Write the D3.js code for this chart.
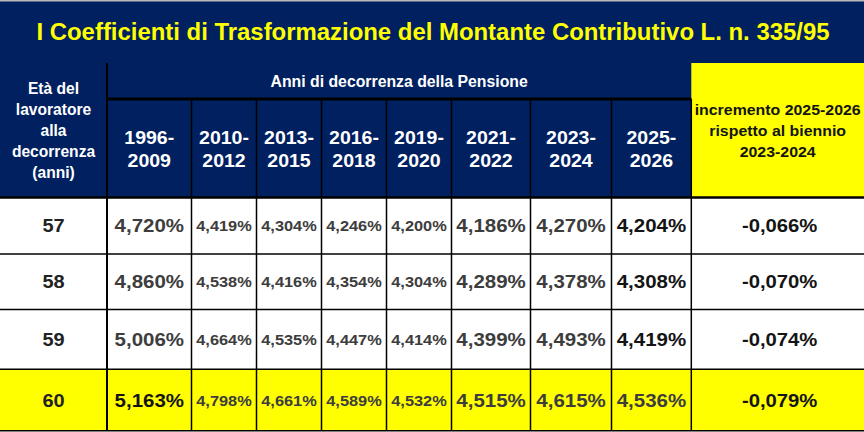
<!DOCTYPE html>
<html><head><meta charset="utf-8">
<script src="https://cdn.jsdelivr.net/npm/d3@7"></script>
<style>html,body{margin:0;padding:0;background:#fff;}svg{display:block;}</style>
</head><body>
<script>
// ---- data ----
const title = "I Coefficienti di Trasformazione del Montante Contributivo L. n. 335/95";
const groupLabel = "Anni di decorrenza della Pensione";
const ageHeader = ["Età del", "lavoratore", "alla", "decorrenza", "(anni)"];
const incrHeader = ["incremento 2025-2026", "rispetto al biennio", "2023-2024"];
const ages = ["57", "58", "59", "60"];
const periods = ["1996-2009", "2010-2012", "2013-2015", "2016-2018", "2019-2020", "2021-2022", "2023-2024", "2025-2026"];
const v1996_2009 = [4.720, 4.860, 5.006, 5.163];
const v2010_2012 = [4.419, 4.538, 4.664, 4.798];
const v2013_2015 = [4.304, 4.416, 4.535, 4.661];
const v2016_2018 = [4.246, 4.354, 4.447, 4.589];
const v2019_2020 = [4.200, 4.304, 4.414, 4.532];
const v2021_2022 = [4.186, 4.289, 4.399, 4.515];
const v2023_2024 = [4.270, 4.378, 4.493, 4.615];
const v2025_2026 = [4.204, 4.308, 4.419, 4.536];
const increments = [-0.066, -0.070, -0.074, -0.079];

const series = [v1996_2009, v2010_2012, v2013_2015, v2016_2018, v2019_2020, v2021_2022, v2023_2024, v2025_2026];

// ---- layout ----
const W = 864, H = 432;
const NAVY = "#002060", YEL = "#ffff00", GRAY = "#3d3d3d", BLK = "#141414";
const colEdges = [0, 107, 191.5, 256.5, 321.5, 386.5, 451.5, 530.5, 611.5, 691.3, 864];
const rowEdges = [197.5, 254, 309.5, 369.3, 430.7];
const x = d3.scaleLinear().domain(d3.range(colEdges.length)).range(colEdges);
const y = d3.scaleLinear().domain(d3.range(rowEdges.length)).range(rowEdges);
const xc = i => (x(i) + x(i + 1)) / 2;
const yc = i => (y(i) + y(i + 1)) / 2;

const loc = d3.formatLocale({decimal: ",", thousands: ".", grouping: [3], currency: ["", "€"], minus: "-"});
const fmt = loc.format(".3f");
const pct = v => fmt(v) + "%";

const FONT = "'Liberation Sans', Arial, Helvetica, sans-serif";

const svg = d3.select("body").append("svg").attr("width", W).attr("height", H);

function txt(g, s, cx, cy, size, color, sx) {
  return g.append("text")
    .attr("transform", `translate(${cx},${cy}) scale(${sx || 1},1)`)
    .attr("text-anchor", "middle")
    .attr("font-family", FONT)
    .attr("font-weight", "bold")
    .attr("font-size", size)
    .attr("fill", color)
    .text(s);
}

// backgrounds
svg.append("rect").attr("x", 0).attr("y", 0).attr("width", W).attr("height", y(0)).attr("fill", NAVY);
svg.append("rect").attr("x", 0).attr("y", 0).attr("width", W).attr("height", 1.5).attr("fill", "#b8b8b8");
svg.append("rect").attr("x", x(9)).attr("y", 63).attr("width", x(10) - x(9)).attr("height", y(0) - 63).attr("fill", YEL);

// body rows
const rowsG = svg.append("g");
ages.forEach((a, r) => {
  rowsG.append("rect").attr("x", 0).attr("y", y(r)).attr("width", W).attr("height", y(r + 1) - y(r))
    .attr("fill", r === ages.length - 1 ? YEL : "#ffffff");
});

// grid lines
const lines = svg.append("g").attr("stroke", "#000");
lines.append("line").attr("x1", x(1)).attr("x2", x(9)).attr("y1", 99).attr("y2", 99).attr("stroke-width", 3);
rowEdges.forEach((yy, i) => {
  lines.append("line").attr("x1", 0).attr("x2", W).attr("y1", yy).attr("y2", yy)
    .attr("stroke-width", i === 0 ? 2.5 : 1.5);
});
lines.append("line").attr("x1", x(1)).attr("x2", x(1)).attr("y1", 63).attr("y2", rowEdges[4]).attr("stroke-width", 2);
for (let i = 2; i <= 9; i++) {
  lines.append("line").attr("x1", x(i)).attr("x2", x(i)).attr("y1", 99).attr("y2", rowEdges[4]).attr("stroke-width", 1.5);
}

// title
txt(svg, title, 433, 39.5, 23, YEL, 1.04);

// header texts
txt(svg, groupLabel, (x(1) + x(9)) / 2, 87, 15.8, "#ffffff", 1);
ageHeader.forEach((s, i) => txt(svg, s, xc(0), 94 + i * 21, 15.6, "#ffffff", 1));
incrHeader.forEach((s, i) => txt(svg, s, xc(9), 115 + i * 21.2, 15, BLK, 1.06));
periods.forEach((p, i) => {
  const parts = p.split("-");
  txt(svg, parts[0] + "-", xc(i + 1), 144, 18.6, "#ffffff", 1.05);
  txt(svg, parts[1], xc(i + 1), 167.3, 18.6, "#ffffff", 1.05);
});

// body texts
const big = [true, false, false, false, false, true, true, true];
ages.forEach((a, r) => {
  const base = yc(r) + 6.7;
  txt(svg, a, xc(0), base, 19, "#222", 1.05);
  series.forEach((s, c) => {
    let color = GRAY;
    if (c === 7 && r < 3) color = BLK;
    if (c === 0 && r === 3) color = BLK;
    if (big[c]) txt(svg, pct(s[r]), xc(c + 1), base, 18.6, color, 1.1);
    else txt(svg, pct(s[r]), xc(c + 1), base - 1, 15.3, GRAY, 1.07);
  });
  txt(svg, pct(increments[r]), xc(9) + 2, base, 18.6, BLK, 1.09);
});
</script>
</body></html>
